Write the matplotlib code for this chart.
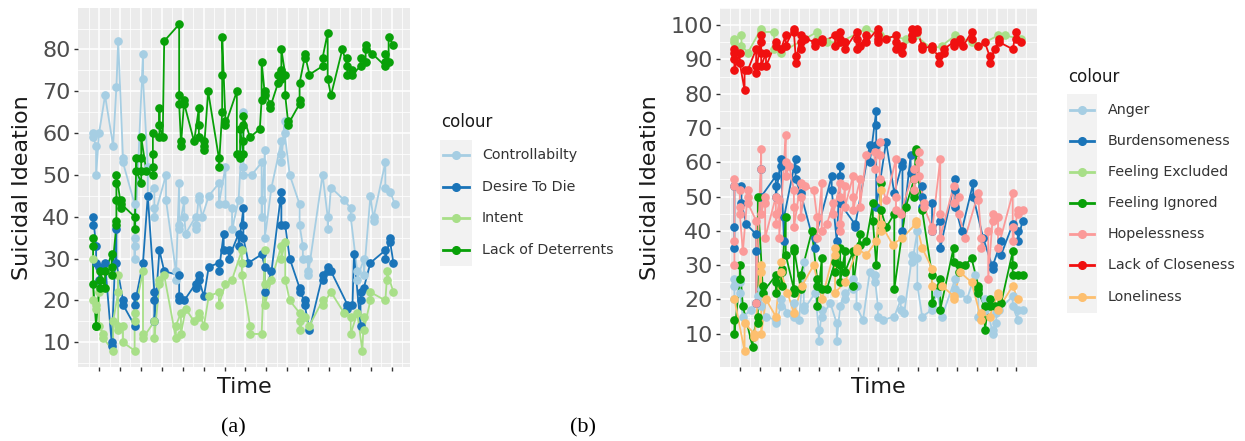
import matplotlib
matplotlib.use("Agg")
import matplotlib.pyplot as plt
import numpy as np
from matplotlib.lines import Line2D
from matplotlib.patches import Rectangle

# ---------------- Panel (a) data: (time in days, suicidal ideation) ----------------
controllability = [(0,60),(0,59),(1,57),(1,50),(2,60),(4,69),(6.7,57),(7.8,71),(8.4,82),(10,54),(10,53),
    (13.9,43),(13.9,30),(13.9,35),(13.9,33),(16.7,79),(16.7,73),(18.3,52),(18.3,45),(20.5,47),(20.5,42),
    (20.5,40),(24.4,50),(24.4,44),(27.7,27),(27.7,25),(28.8,48),(28.8,38),(28.8,37),(30.5,44),(30.5,40),
    (31,36),(34.3,40),(34.3,38),(34.3,37),(35.4,45),(35.4,44),(36.5,40),(38.7,45),(42.1,48),(42.1,43),
    (44.3,52),(44.3,43),(46.5,42),(46.5,37),(48.7,44),(50.3,65),(50.3,52),(50.3,50),(53.1,50),(56.4,53),
    (56.4,44),(56.4,40),(57.5,56),(57.5,35),(59.7,47),(63,58),(63,55),(63,53),(64.1,63),(64.1,60),(65.8,50),
    (69.1,43),(69.1,38),(70.2,33),(70.2,30),(71.9,30),(71.9,27),(71.9,26),(76.8,50),(78.5,40),(78.5,37),
    (79.6,47),(84,44),(86.2,42),(86.2,40),(88.4,27),(88.4,25),(90.6,30),(90.6,26),(92.8,45),(93.9,39),
    (93.9,40),(97.8,53),(97.8,47),(99.4,46),(101,43)]
desire_to_die = [(0,38),(0,40),(1,33),(1,29),(2,28),(2,25),(4,29),(6.2,10),(6.2,9),(7.8,37),(7.8,29),(10,20),
    (10,19),(13.9,14),(13.9,21),(13.9,19),(16.7,29),(18.3,45),(20.5,22),(20.5,20),(20.5,15),(22.2,32),
    (23.8,27),(28.8,26),(28.8,21),(28.8,20),(30.5,20),(34.3,24),(34.3,23),(35.4,26),(35.4,25),(37.1,21),
    (38.7,28),(42.1,29),(42.1,27),(43.7,36),(43.7,32),(45.4,32),(45.4,30),(48.7,36),(48.7,33),(50.3,42),
    (50.3,38),(50.3,35),(52,29),(56.4,31),(57.5,28),(57.5,22),(59.7,27),(63,46),(63,44),(63,38),(64.3,38),
    (65.8,30),(69.1,23),(69.1,22),(70.8,20),(70.8,19),(72.4,13),(76.8,26),(76.8,25),(78.5,28),(78.5,27),
    (79.6,27),(85.1,19),(85.1,18),(86.8,19),(87.3,31),(89.5,14),(89.5,20),(89.5,22),(90.6,23),(92.8,29),
    (97.8,32),(97.8,30),(99.4,35),(99.4,34),(100.5,29)]
intent = [(0,30),(0,20),(1,19),(1,18),(2,22),(2,14),(3.4,12),(3.4,11),(6.7,8),(6.7,15),(8.4,22),(8.4,26),
    (8.4,14),(8.4,13),(10,14),(10,10),(13.9,8),(13.9,15),(13.9,17),(16.7,27),(16.7,12),(16.7,11),(20.5,15),
    (20.5,11),(22.2,24),(22.2,25),(23.8,26),(27.7,11),(27.7,14),(29.4,17),(29.4,12),(31,18),(33.8,15),
    (35.4,16),(35.4,17),(37.1,14),(38.7,21),(42.1,22),(42.1,19),(44.3,24),(46.5,25),(49.8,32),(49.8,29),
    (49.8,26),(52.5,14),(52.5,12),(56.4,12),(57.5,32),(57.5,24),(57.5,19),(59.7,25),(63,33),(63,30),
    (64.3,34),(64.3,25),(65.8,20),(69.1,17),(69.1,15),(69.1,13),(70.8,16),(72.4,14),(76.8,20),(76.8,19),
    (79.6,22),(84,17),(86.2,16),(86.2,12),(88.4,17),(90.1,8),(90.6,16),(90.6,13),(92.8,20),(92.8,22),
    (97.8,20),(98.3,25),(98.3,27),(100.5,22)]
lack_of_deterrents = [(0,35),(0,33),(0,24),(1,14),(1,14),(2.3,25),(2.3,23),(2.3,27),(4,23),(4,27),(6.2,31),
    (6.2,28),(6.2,26),(7.8,38),(7.8,39),(7.8,44),(7.8,48),(7.8,50),(9.5,42),(9.5,44),(9.5,43),(13.9,40),
    (13.9,37),(14.5,54),(14.5,51),(16.1,48),(16.1,51),(16.1,54),(16.1,59),(17.8,51),(20,50),(20,52),(20,55),
    (20,60),(22.2,59),(22.2,66),(22.2,62),(23.3,59),(23.8,82),(28.8,86),(28.8,69),(28.8,67),(29.4,58),
    (29.4,57),(30.5,68),(30.5,67),(33.8,58),(35.4,66),(35.4,62),(35.4,59),(37.1,58),(37.1,57),(37.1,56),
    (38.5,70),(42.1,54),(42.1,52),(43.2,65),(43.2,74),(43.2,83),(44.3,63),(44.3,62),(48.1,70),(48.1,55),
    (49.2,54),(49.2,61),(50.3,55),(50.3,58),(50.3,62),(50.3,64),(52.5,59),(55.8,61),(56.4,68),(56.4,77),
    (57.5,69),(57.5,70),(59.2,67),(59.2,66),(61.9,72),(61.9,74),(63,73),(63,75),(63,80),(64.3,74),(64.3,69),
    (65.2,63),(65.2,62),(69.1,67),(69.1,68),(69.1,72),(70.8,78),(70.8,79),(72.4,74),(76.8,76),(76.8,78),
    (78.5,84),(78.5,73),(79.6,69),(83.4,80),(85.1,76),(85.1,78),(85.1,74),(86.8,75),(86.8,74),(89.5,76),
    (89.5,78),(91.2,77),(91.2,80),(91.2,81),(93.4,79),(97.8,76),(97.8,77),(97.8,79),(98.9,77),(98.9,83),
    (100.5,81)]

labels_a = ["Controllabilty", "Desire To Die", "Intent", "Lack of Deterrents"]
series_a = [controllability, desire_to_die, intent, lack_of_deterrents]
colors_a = ["#a6cee3", "#1a74b8", "#a8df88", "#08a008"]

# ---------------- Panel (b) data ----------------
anger = [(0,20),(0,24),(0,26),(1.9,25),(1.9,22),(3,15),(6,17),(8.3,19),(8.3,21),(9.5,23),(9.5,18),(11.2,15),
    (14.7,14),(14.7,13),(16.5,18),(16.5,20),(18.8,16),(21.1,15),(21.1,19),(22.9,14),(24.6,31),(24.6,18),
    (24.6,17),(28.7,22),(29.9,11),(29.9,8),(31,17),(31,15),(34,19),(36.3,13),(36.3,8),(37.5,18),(39.2,22),
    (39.2,20),(42.1,26),(42.1,23),(43.3,24),(43.3,18),(45.6,14),(48,28),(49.7,25),(49.7,27),(50.9,18),
    (50.9,15),(52.6,14),(56.7,15),(59,20),(59,17),(60.2,16),(63.1,33),(63.1,31),(64.9,40),(64.9,32),
    (64.9,24),(66.6,15),(70.1,17),(70.1,18),(71.9,22),(73.6,15),(78.3,26),(78.3,23),(80,22),(82.4,20),
    (85.3,27),(86.5,22),(86.5,15),(88.8,17),(88.8,20),(91.7,10),(91.7,11),(92.9,13),(92.9,16),(94,17),
    (98.7,21),(98.7,18),(100.5,14),(100.5,17),(102.2,17)]
burdensomeness = [(0,35),(0,41),(0,53),(2.5,53),(2.5,48),(4.2,42),(7.7,39),(7.7,34),(7.7,19),(9.5,58),
    (9.5,50),(14.7,56),(14.7,53),(14.7,50),(16.5,61),(16.5,59),(17.6,37),(17.6,44),(21.7,61),(21.7,58),
    (21.7,55),(23.5,51),(28.7,35),(28.7,38),(34.5,56),(34.5,52),(36.3,37),(37.5,59),(37.5,56),(37.5,48),
    (42.7,42),(42.7,41),(48,65),(48,60),(50.3,75),(50.3,71),(50.3,65),(50.3,47),(53.8,66),(56.7,51),
    (59.6,60),(59.6,59),(59.6,40),(62.5,62),(62.5,57),(66.6,53),(66.6,50),(66.6,47),(70.1,48),(70.1,40),
    (73,43),(73,35),(78.3,55),(78.3,52),(78.3,47),(80.6,40),(84.7,54),(84.7,50),(88.2,38),(91.7,29),
    (91.7,30),(94.6,37),(94.6,33),(98.7,42),(100.5,40),(100.5,37),(102.2,43)]
feeling_excluded = [(0,95),(0,96),(2.5,97),(2.5,94),(4.8,92),(9.5,99),(9.5,98),(14.1,98),(14.1,93),
    (16.5,92),(29.3,98),(29.3,96),(32.8,95),(37.5,95),(46.8,99),(51.5,97),(60.8,96),(64.3,97),(70.1,93),
    (73.6,94),(78.3,97),(84.1,95),(86.5,94),(93.5,97),(95.8,97),(101.6,96)]
feeling_ignored = [(0,14),(0,10),(1.9,26),(1.9,30),(3,18),(6.5,6),(6.5,9),(8.3,15),(8.3,13),(8.3,50),
    (10,24),(10,22),(14.7,27),(14.7,25),(14.7,22),(17,28),(17,24),(17,29),(18.2,44),(18.2,33),(21.1,23),
    (21.1,22),(21.1,34),(21.1,35),(23.5,23),(23.5,27),(27.5,40),(29.3,26),(29.3,24),(29.3,18),(31,32),
    (31,23),(32.8,23),(35.7,31),(35.7,28),(37.5,35),(37.5,30),(37.5,25),(39.2,34),(39.2,28),(42.1,34),
    (42.1,24),(44.5,39),(44.5,36),(46.8,37),(49.1,48),(49.1,43),(50.3,30),(52,54),(52,46),(53.8,41),
    (56.7,45),(56.7,23),(60.8,47),(63.7,55),(63.7,51),(63.7,50),(64.3,64),(64.3,63),(66.6,46),(70.1,27),
    (70.1,19),(73,26),(73,24),(73,17),(77.7,35),(77.7,31),(79.5,30),(79.5,28),(81.8,30),(84.1,32),(86.5,24),
    (86.5,23),(86.5,22),(88.8,18),(88.8,11),(90.5,20),(90.5,18),(92.3,18),(94.6,19),(98.7,34),(98.7,30),
    (98.7,27),(100.5,27),(102.2,27)]
hopelessness = [(0,30),(0,37),(0,55),(0,53),(1.9,52),(1.9,47),(1.9,45),(3,34),(4.8,52),(4.8,50),(4.8,48),
    (7.7,43),(7.7,19),(9.5,64),(9.5,58),(9.5,45),(10.9,50),(10.9,48),(10.9,38),(14.7,50),(14.7,45),
    (14.7,42),(15.9,49),(15.9,38),(18.2,68),(18.2,60),(18.2,56),(19.4,59),(21.1,52),(21.1,47),(21.1,41),
    (23.5,54),(23.5,50),(23.5,44),(25.2,53),(28.1,52),(29.3,44),(29.3,38),(31,54),(31,40),(32.8,42),
    (35.1,48),(35.1,45),(37.5,54),(37.5,50),(37.5,42),(37.5,40),(39.2,53),(39.2,47),(42.1,56),(42.1,50),
    (42.1,46),(44.5,55),(44.5,47),(46.8,62),(49.7,63),(49.7,58),(51.5,66),(51.5,62),(51.5,55),(53.8,49),
    (57.3,61),(57.3,50),(57.3,46),(59,45),(63.7,58),(63.7,55),(63.7,52),(65.5,63),(65.5,60),(65.5,56),
    (67.2,48),(67.2,47),(70.1,41),(70.1,40),(73,61),(73,45),(73,38),(77.7,53),(77.7,48),(79.5,50),(79.5,45),
    (81.8,38),(86.5,51),(86.5,49),(87.6,38),(87.6,35),(90,40),(90,26),(91.7,45),(91.7,43),(93.5,44),
    (93.5,40),(93.5,35),(98.7,51),(98.7,41),(98.7,37),(100.5,46),(100.5,45),(102.2,46)]
lack_of_closeness = [(0,93),(0,92),(0,90),(0,87),(1.9,92),(1.9,89),(3.6,81),(3.6,87),(4.8,87),(7.7,93),
    (7.7,88),(7.7,86),(9.5,97),(9.5,95),(9.5,92),(9.5,88),(11.2,92),(11.2,88),(14.7,95),(14.7,94),(16.5,93),
    (18.2,97),(18.2,94),(21.1,99),(21.1,98),(21.7,91),(21.7,89),(23.5,97),(23.5,95),(23.5,93),(25.2,96),
    (28.7,95),(28.7,94),(31,96),(31,95),(35.7,97),(35.7,94),(37.5,98),(37.5,96),(37.5,95),(39.2,95),
    (39.2,93),(43.3,98),(43.3,96),(43.3,93),(44.5,94),(46.8,97),(46.8,95),(50.9,99),(50.9,97),(50.9,96),
    (50.9,95),(53.8,96),(57.3,97),(57.3,95),(57.3,93),(59.6,94),(59.6,92),(63.1,99),(63.1,97),(63.1,96),
    (64.9,99),(64.9,98),(66.6,94),(66.6,93),(70.1,94),(70.1,93),(72.5,91),(72.5,89),(74.2,92),(74.2,93),
    (77.7,95),(77.7,94),(80,96),(80,95),(81.2,94),(84.1,98),(84.1,96),(86.5,94),(88.8,95),(90.5,91),
    (90.5,89),(92.3,93),(94,96),(94,95),(98.7,93),(99.9,98),(99.9,96),(101.6,95)]
loneliness = [(0,20),(3.6,5),(3.6,13),(7.1,10),(7.1,9),(9.5,30),(9.5,28),(9.5,10),(11.2,20),(14.7,15),
    (16.5,31),(16.5,28),(18.8,22),(21.1,16),(24,24),(28.1,30),(31,20),(35.7,35),(35.7,33),(35.7,22),
    (39.2,25),(43.3,34),(43.3,35),(46.8,33),(50.3,37),(52,52),(52,40),(52,42),(56.1,36),(59.6,38),(64.3,42),
    (64.3,43),(66.6,35),(70.1,29),(70.1,24),(73.6,24),(77.7,21),(77.7,20),(80,28),(84.1,25),(87.6,14),
    (87.6,16),(90.5,15),(93.5,22),(93.5,21),(93.5,17),(98.7,24),(100.5,20)]

labels_b = ["Anger", "Burdensomeness", "Feeling Excluded", "Feeling Ignored",
            "Hopelessness", "Lack of Closeness", "Loneliness"]
series_b = [anger, burdensomeness, feeling_excluded, feeling_ignored,
            hopelessness, lack_of_closeness, loneliness]
colors_b = ["#a6cee3", "#1a74b8", "#a8df88", "#08a008", "#fb9a99", "#f01010", "#fdbf6f"]

y_ticks_a = [10, 20, 30, 40, 50, 60, 70, 80]
y_ticks_b = [10, 20, 30, 40, 50, 60, 70, 80, 90, 100]

W, H = 1245, 441
fig = plt.figure(figsize=(W / 100, H / 100), dpi=100)
fig.patch.set_facecolor("white")

def px_axes(x0, y0, x1, y1):
    return fig.add_axes([x0 / W, 1 - y1 / H, (x1 - x0) / W, (y1 - y0) / H])

def expand(lo, hi, f=0.05):
    r = hi - lo
    return lo - f * r, hi + f * r

def draw_panel(ax, series, colors, yticks, ylabel_x):
    ax.set_facecolor("#ebebeb")
    for s in ax.spines.values():
        s.set_visible(False)
    all_t = [p[0] for s in series for p in s]
    all_v = [p[1] for s in series for p in s]
    for s, c in zip(series, colors):
        t = [p[0] for p in s]
        v = [p[1] for p in s]
        ax.plot(t, v, color=c, lw=1.3, zorder=2, solid_capstyle="round")
    for s, c in zip(series, colors):
        t = [p[0] for p in s]
        v = [p[1] for p in s]
        ax.plot(t, v, ls="none", marker="o", ms=5.2, color=c, mec=c, zorder=3)
    ax.set_xlim(*expand(min(all_t), max(all_t)))
    ax.set_ylim(*expand(min(all_v), max(all_v)))
    xt = np.arange(2, 101, 7)
    ax.set_xticks(xt)
    ax.set_xticks(np.arange(-1.5, 106, 3.5), minor=True)
    ax.set_xticklabels([""] * len(xt))
    ax.set_yticks(yticks)
    ax.set_yticks(np.arange(5, yticks[-1] + 6, 5), minor=True)
    ax.set_yticklabels([str(v) for v in yticks])
    ax.grid(which="major", color="white", lw=1.1, zorder=0)
    ax.grid(which="minor", color="white", lw=0.55, zorder=0)
    ax.set_axisbelow(True)
    ax.tick_params(axis="both", which="major", length=3.2, width=1.0, color="#333333",
                   labelsize=16, labelcolor="#4d4d4d", pad=2)
    ax.tick_params(axis="both", which="minor", length=0)
    ax.set_xlabel("Time", fontsize=16, color="#1a1a1a")
    ax.xaxis.set_label_coords(0.5, -(387 - 367) / 359)
    ax.xaxis.label.set_va("center")
    ax.set_ylabel("Suicidal Ideation", fontsize=16, color="#1a1a1a")
    ax.yaxis.set_label_coords(ylabel_x, 0.5)
    ax.yaxis.label.set_va("center")

ax_a = px_axes(78, 8, 410, 367)
draw_panel(ax_a, series_a, colors_a, y_ticks_a, (22 - 78) / 332)
ax_b = px_axes(720, 8, 1037, 367)
draw_panel(ax_b, series_b, colors_b, y_ticks_b, (650 - 720) / 317)

def draw_legend(labels, colors, title_xy, key_x0, key_w, y_centers, key_h, text_x):
    fx = lambda x: x / W
    fy = lambda y: 1 - y / H
    fig.text(fx(title_xy[0]), fy(title_xy[1]), "colour", fontsize=12, color="#1a1a1a",
             ha="left", va="center")
    top = y_centers[0] - key_h / 2
    bot = y_centers[-1] + key_h / 2
    fig.add_artist(Rectangle((fx(key_x0), fy(bot)), key_w / W, (bot - top) / H,
                             transform=fig.transFigure, facecolor="#f2f2f2", edgecolor="none"))
    for lab, c, yc in zip(labels, colors, y_centers):
        fig.add_artist(Line2D([fx(key_x0 + 3), fx(key_x0 + key_w - 3)], [fy(yc), fy(yc)],
                              transform=fig.transFigure, color=c, lw=2.0))
        fig.add_artist(Line2D([fx(key_x0 + key_w / 2)], [fy(yc)], transform=fig.transFigure,
                              color=c, marker="o", ms=5.5, ls="none"))
        fig.text(fx(text_x), fy(yc), lab, fontsize=10.3, color="#333333", ha="left", va="center")

draw_legend(labels_a, colors_a, (441, 122), 440, 32, [155, 187, 218, 250], 31, 482)
draw_legend(labels_b, colors_b, (1068, 77), 1067, 30,
            [110, 141, 172, 203, 234, 265, 297], 31, 1108)

fig.text(233 / W, 1 - 428 / H, "(a)", fontsize=16, family="Liberation Serif", ha="center", va="center")
fig.text(583 / W, 1 - 428 / H, "(b)", fontsize=16, family="Liberation Serif", ha="center", va="center")

fig.savefig("out.png", dpi=100)
